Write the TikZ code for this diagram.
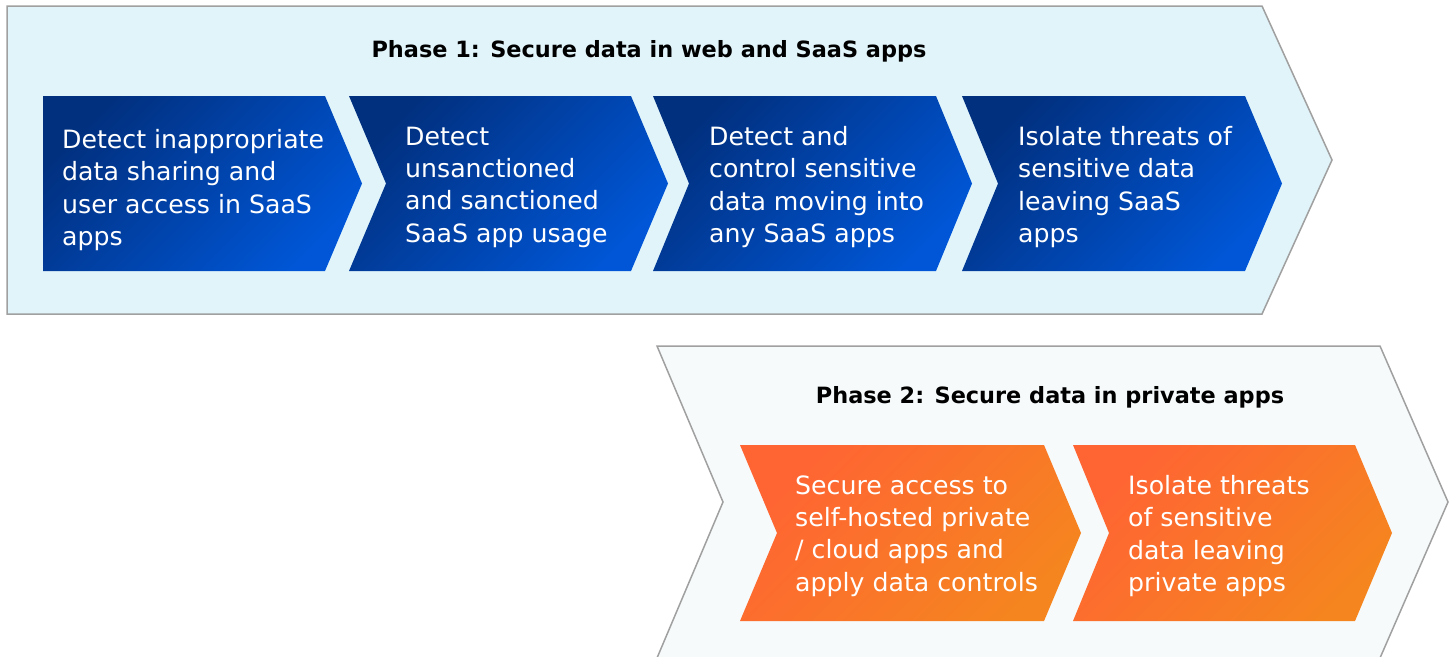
\documentclass[tikz,border=0pt]{standalone}
\usepackage{fontspec}
\setmainfont{DejaVu Sans}
\usepackage{tikz}
\usetikzlibrary{calc}

\definecolor{phaseonebg}{HTML}{E1F4FA}
\definecolor{phasetwobg}{HTML}{F6FAFB}
\definecolor{frame}{HTML}{A0A0A0}
\definecolor{blueA}{HTML}{01307F}
\definecolor{blueB}{HTML}{0056D6}
\definecolor{orangeA}{HTML}{FF6433}
\definecolor{orangeB}{HTML}{F5851F}

\tikzset{
  phase/.style={draw=frame, line width=1.5pt},
  bluestep/.style={top color=blueA, bottom color=blueB, shading angle=45},
  orangestep/.style={top color=orangeA, bottom color=orangeB, shading angle=45},
  steptext/.style={anchor=west, align=left, text=white, inner sep=0pt,
    font={\fontsize{25.2}{32.3}\selectfont}},
  phasetitle/.style={inner sep=0pt, font={\fontsize{22.4}{28}\selectfont\bfseries}}
}

\begin{document}
\begin{tikzpicture}[x=1pt,y=-1pt]
      \useasboundingbox (0,0) rectangle (1453,656);
      % phase frames
      \fill[phaseonebg] (7,6) -- (1262,6) -- (1332,160) -- (1262,314) -- (7,314) -- cycle;
      \draw[phase] (7,6) -- (1262,6) -- (1332,160) -- (1262,314) -- (7,314) -- cycle;
      \fill[phasetwobg] (657,346) -- (1380,346) -- (1448,502) -- (1380,658) -- (657,658) -- (723,502) -- cycle;
      \draw[phase] (657,346) -- (1380,346) -- (1448,502) -- (1380,658) -- (657,658) -- (723,502) -- cycle;
      \node[phasetitle] (t1) at (649,51) {Phase 1: Secure data in web and SaaS apps};
      \node[phasetitle] (t2) at (1050,397) {Phase 2: Secure data in private apps};
      % blue steps
      \shade[bluestep] (43,96) -- (325,96) -- (362,183.5) -- (325,271) -- (43,271) -- cycle;
      \shade[bluestep] (349,96) -- (631,96) -- (668,183.5) -- (631,271) -- (349,271) -- (386,183.5) -- cycle;
      \shade[bluestep] (653,96) -- (936,96) -- (972,183.5) -- (936,271) -- (653,271) -- (689,183.5) -- cycle;
      \shade[bluestep] (962,96) -- (1245,96) -- (1282,183.5) -- (1245,271) -- (962,271) -- (998,183.5) -- cycle;
      \node[steptext] (s1) at (62,190) {Detect inappropriate\\data sharing and\\user access in SaaS\\apps};
      \node[steptext] (s2) at (405,187) {Detect\\unsanctioned\\and sanctioned\\SaaS app usage};
      \node[steptext] (s3) at (709,187) {Detect and\\control sensitive\\data moving into\\any SaaS apps};
      \node[steptext] (s4) at (1018,187) {Isolate threats of\\sensitive data\\leaving SaaS\\apps};
      % orange steps
      \shade[orangestep] (740,445) -- (1044,445) -- (1081,533) -- (1044,621) -- (740,621) -- (777,533) -- cycle;
      \shade[orangestep] (1073,445) -- (1355,445) -- (1392,533) -- (1355,621) -- (1073,621) -- (1109,533) -- cycle;
      \node[steptext] (p1) at (795,536) {Secure access to\\self-hosted private\\/ cloud apps and\\apply data controls};
      \node[steptext] (p2) at (1128,536) {Isolate threats\\of sensitive\\data leaving\\private apps};
    \end{tikzpicture}
\end{document}
